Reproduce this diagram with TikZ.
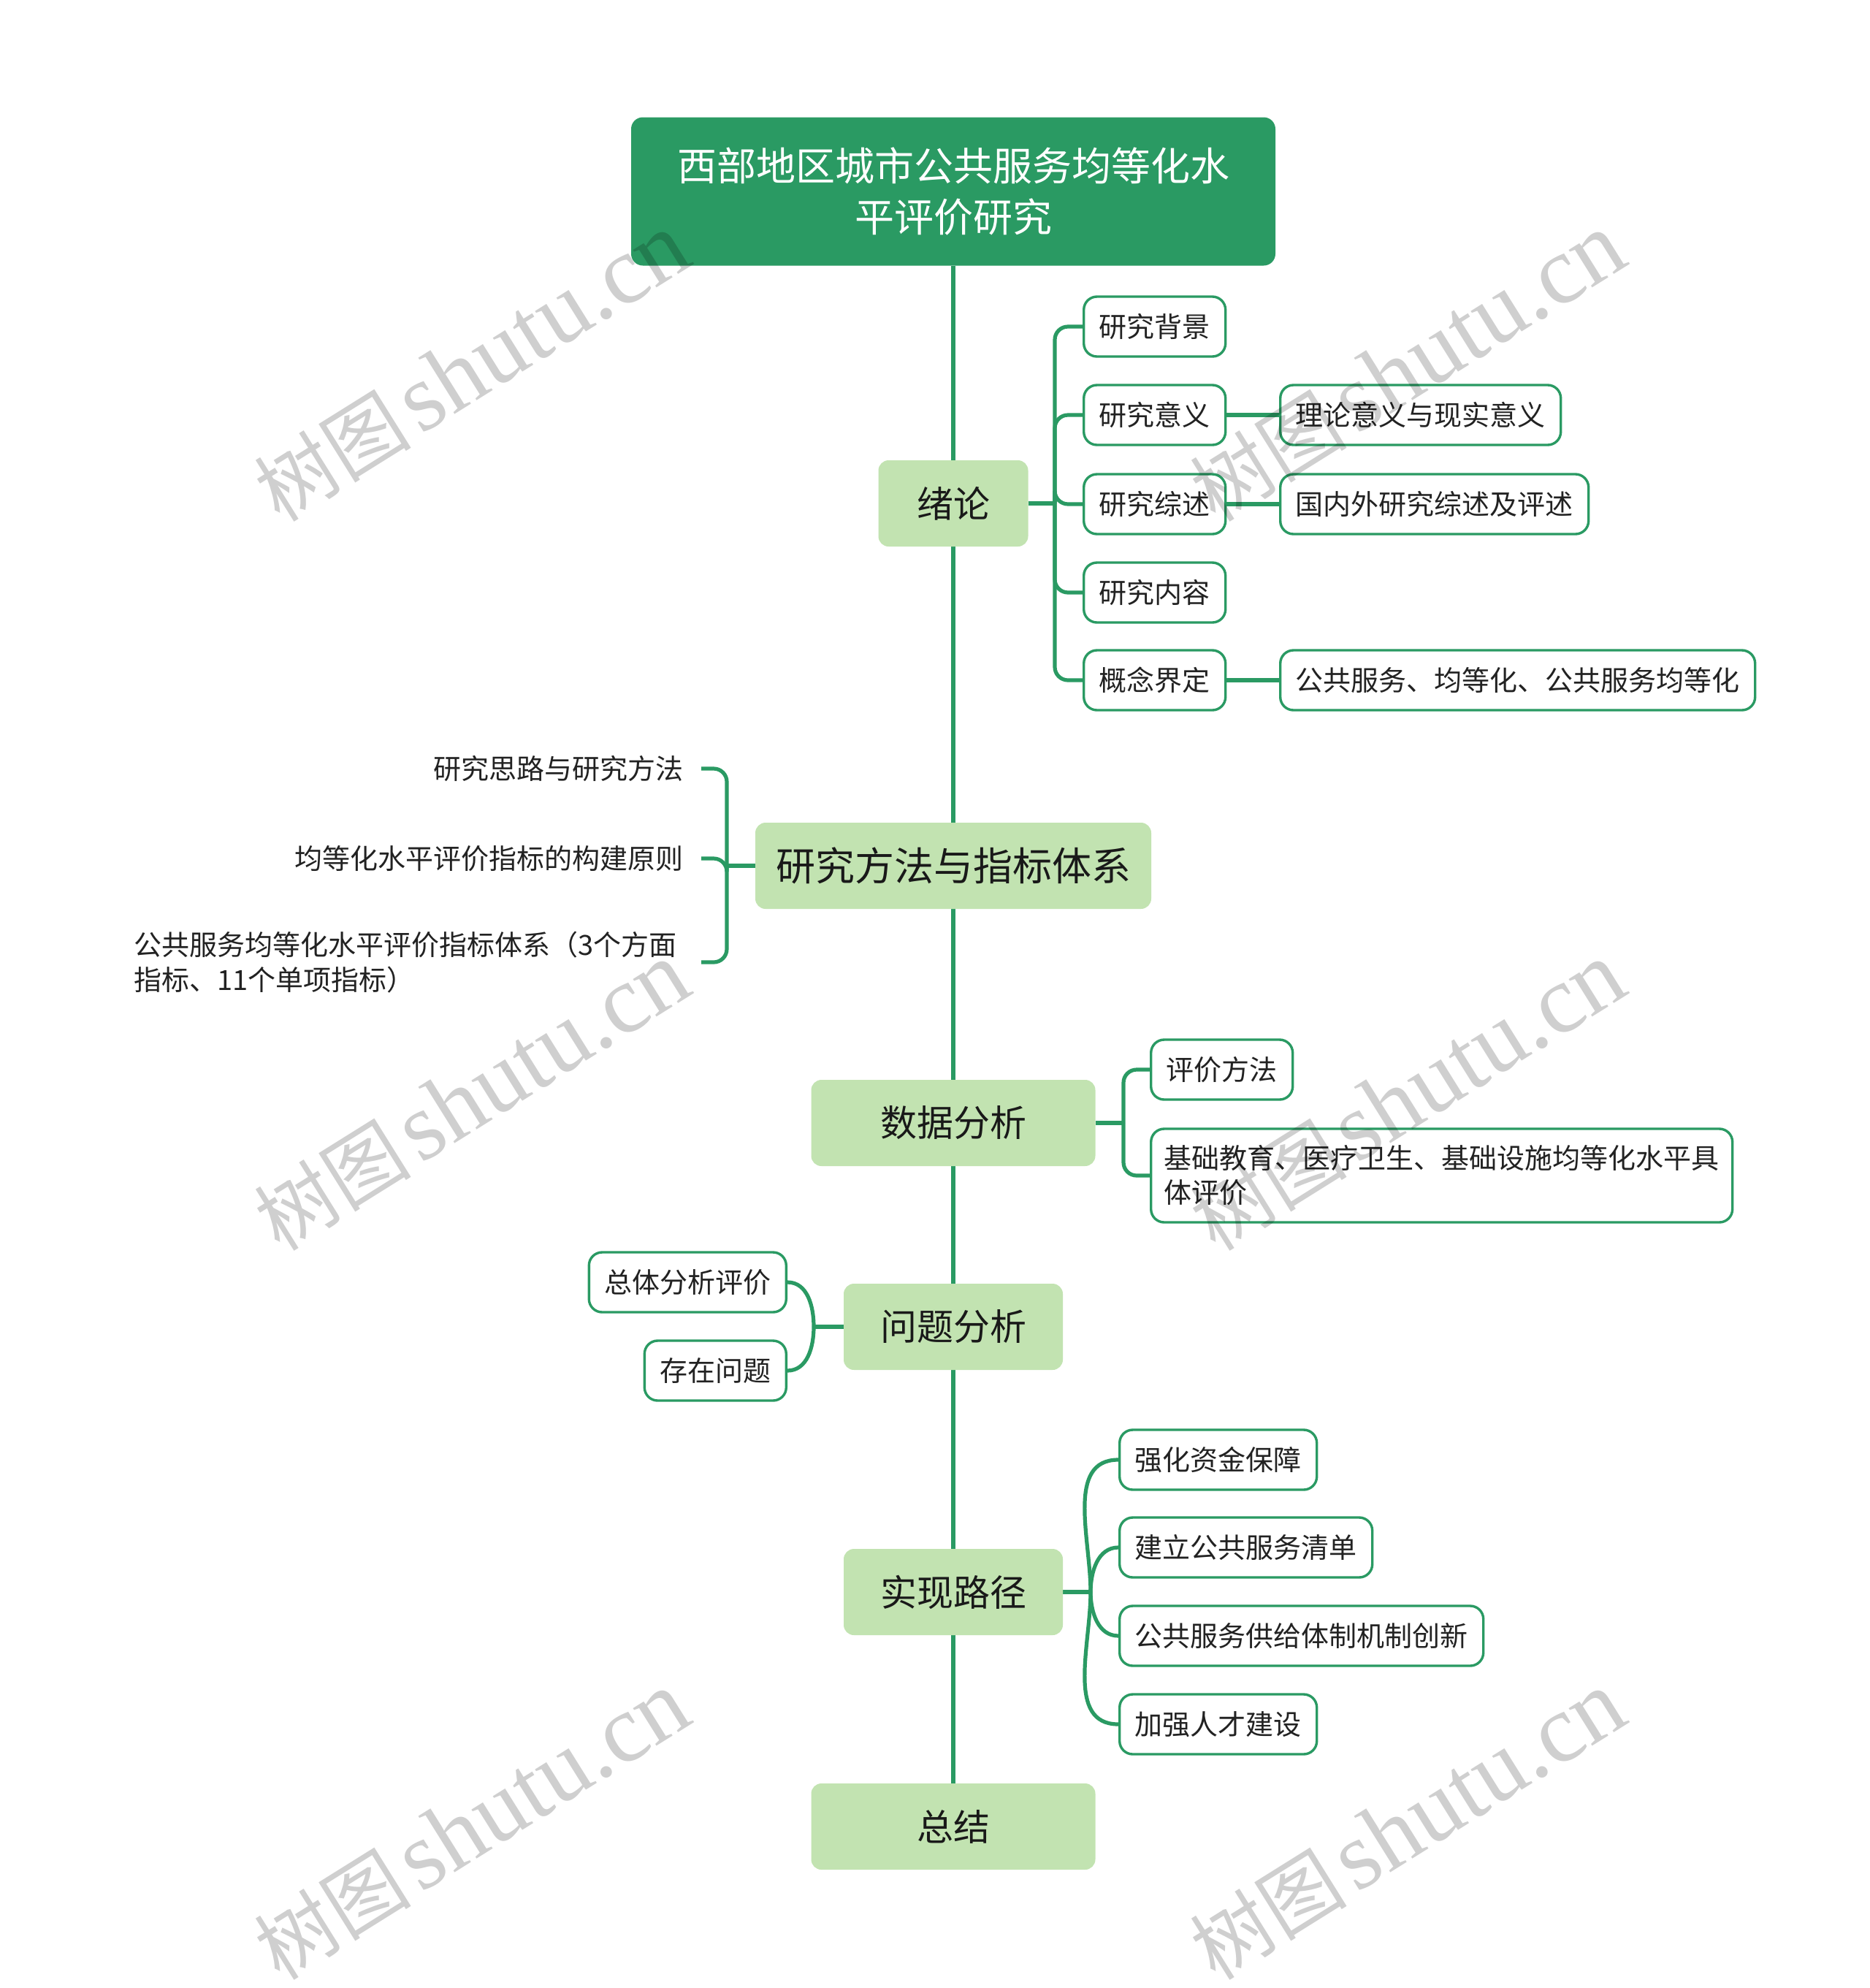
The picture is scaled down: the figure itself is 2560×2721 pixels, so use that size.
\documentclass[tikz,border=0pt]{standalone}
\usepackage{fontspec}
\setmainfont{Noto Sans CJK SC}
\newfontfamily\wmserif{Liberation Serif}
\usetikzlibrary{calc,backgrounds}
\definecolor{dkgreen}{HTML}{2A9A63}
\definecolor{ltgreen}{HTML}{C2E3B1}
\definecolor{txt}{HTML}{222222}
\tikzset{
  rootbox/.style={fill=dkgreen, rounded corners=8pt, text=white, align=center,
    font=\fontsize{27}{35}\selectfont, minimum width=441pt, minimum height=101.5pt},
  mainbox/.style={fill=ltgreen, rounded corners=7pt, text=black!90,
    font=\fontsize{25}{30}\selectfont, minimum height=59pt},
  subbox/.style={draw=dkgreen, line width=1.7pt, fill=white, rounded corners=9pt,
    text=txt, font=\fontsize{19}{23.5}\selectfont, minimum height=41pt, inner xsep=10.5pt},
  plaintext/.style={text=txt, font=\fontsize{19}{24}\selectfont, inner xsep=12pt, anchor=east},
  spine/.style={draw=dkgreen, line width=3pt},
  conn/.style={draw=dkgreen, line width=2.6pt},
  wm/.style={text=black, opacity=0.19, rotate=32, inner sep=0pt}
}
\begin{document}
\begin{tikzpicture}[x=0.5pt,y=-0.5pt]
\useasboundingbox (0,0) rectangle (2560,2721);

% root and main nodes
\node[rootbox] (root) at (1305,262) {西部地区城市公共服务均等化水\\平评价研究};
\node[mainbox, minimum width=102.5pt] (n1) at (1305,689) {绪论};
\node[mainbox, minimum width=271pt, font=\fontsize{27}{32}\selectfont] (n2) at (1305,1185) {研究方法与指标体系};
\node[mainbox, minimum width=194.5pt] (n3) at (1305,1537) {数据分析};
\node[mainbox, minimum width=150pt] (n4) at (1305,1816) {问题分析};
\node[mainbox, minimum width=150pt] (n5) at (1305,2179) {实现路径};
\node[mainbox, minimum width=194.5pt] (n6) at (1305,2500) {总结};

% 绪论 children
\node[subbox, anchor=west] (a1) at (1482,447) {研究背景};
\node[subbox, anchor=west] (a2) at (1482,568) {研究意义};
\node[subbox, anchor=west] (a3) at (1482,690) {研究综述};
\node[subbox, anchor=west] (a4) at (1482,811) {研究内容};
\node[subbox, anchor=west] (a5) at (1482,931) {概念界定};
\node[subbox, anchor=west] (b2) at (1751,568) {理论意义与现实意义};
\node[subbox, anchor=west] (b3) at (1751,690) {国内外研究综述及评述};
\node[subbox, anchor=west] (b5) at (1751,931) {公共服务、均等化、公共服务均等化};

% 研究方法与指标体系 children
\node[plaintext] (l1) at (960,1052) {研究思路与研究方法};
\node[plaintext] (l2) at (960,1175) {均等化水平评价指标的构建原则};
\node[plaintext, text width=380pt, align=left, inner xsep=8pt] (l3) at (960,1317) {公共服务均等化水平评价指标体系（3个方面\\指标、11个单项指标）};

% 数据分析 children
\node[subbox, anchor=west] (d1) at (1574,1464) {评价方法};
\node[subbox, anchor=west, text width=380pt, align=left, minimum height=64pt, inner xsep=9pt] (d2) at (1574,1609) {基础教育、医疗卫生、基础设施均等化水平具\\体评价};

% 问题分析 children
\node[subbox, anchor=east] (p1) at (1078,1755) {总体分析评价};
\node[subbox, anchor=east] (p2) at (1078,1876) {存在问题};

% 实现路径 children
\node[subbox, anchor=west] (r1) at (1531,1998) {强化资金保障};
\node[subbox, anchor=west] (r2) at (1531,2118) {建立公共服务清单};
\node[subbox, anchor=west] (r3) at (1531,2239) {公共服务供给体制机制创新};
\node[subbox, anchor=west] (r4) at (1531,2360) {加强人才建设};

% junctions
\coordinate (j1) at (1444,689);
\coordinate (j2) at (995,1185);
\coordinate (j3) at (1538,1537);
\coordinate (j4) at (1114,1816);
\coordinate (j5) at (1493,2179);

\begin{pgfonlayer}{background}
  \draw[spine] (root.south) -- (n6.north);
  % 绪论
  \draw[conn] (n1.east) -- (j1);
  \foreach \c in {a1,a2,a3,a4,a5} \draw[conn, rounded corners=9pt] (j1) |- (\c.west);
  \draw[conn] (a2.east) -- (b2.west);
  \draw[conn] (a3.east) -- (b3.west);
  \draw[conn] (a5.east) -- (b5.west);
  % 研究方法
  \draw[conn] (n2.west) -- (j2);
  \foreach \c in {l1,l2,l3} \draw[conn, rounded corners=9pt] (j2) |- (\c.east);
  % 数据分析
  \draw[conn] (n3.east) -- (j3);
  \foreach \c in {d1,d2} \draw[conn, rounded corners=9pt] (j3) |- (\c.west);
  % 问题分析
  \draw[conn] (n4.west) -- (j4);
  \draw[conn] (j4) to[out=90,in=0] (p1.east);
  \draw[conn] (j4) to[out=-90,in=0] (p2.east);
  % 实现路径
  \draw[conn] (n5.east) -- (j5);
  \draw[conn] (j5) to[out=90,in=180] (r1.west);
  \draw[conn] (j5) to[out=90,in=180] (r2.west);
  \draw[conn] (j5) to[out=-90,in=180] (r3.west);
  \draw[conn] (j5) to[out=-90,in=180] (r4.west);
\end{pgfonlayer}

% watermarks
\foreach \wx/\wy [count=\i] in {646/503, 1927/503, 646/1501, 1927/1501, 646/2499, 1927/2499}
  \node[wm] (wm\i) at (\wx,\wy) {{\fontsize{54}{54}\selectfont 树图}\hspace{6pt}{\wmserif\fontsize{66}{66}\selectfont shutu.cn}};
\end{tikzpicture}
\end{document}
